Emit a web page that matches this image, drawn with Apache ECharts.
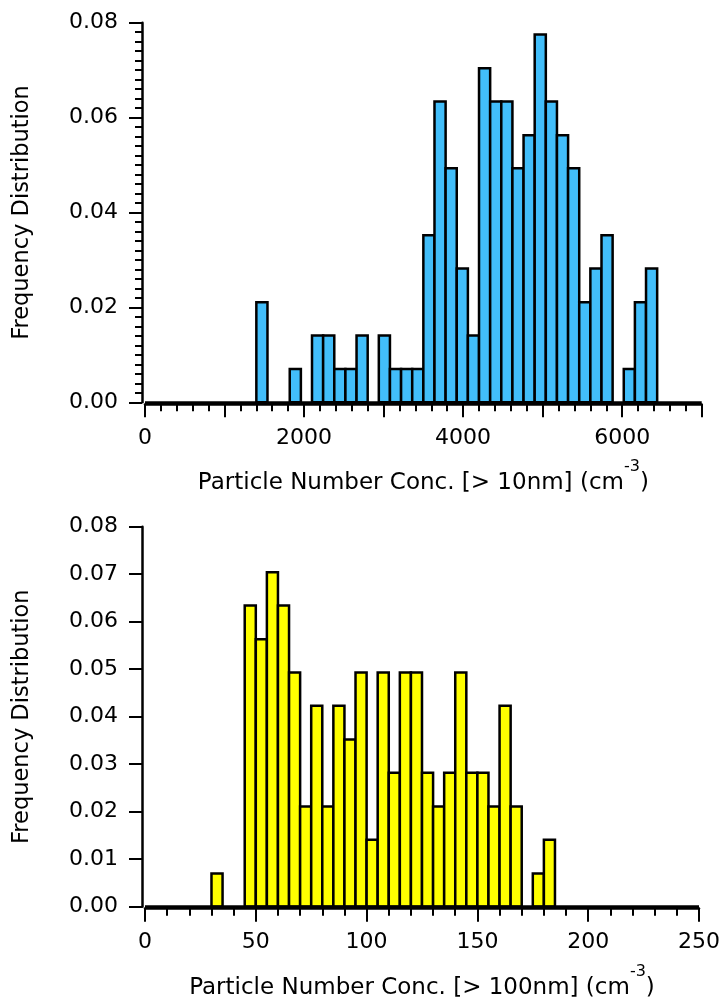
<!DOCTYPE html>
<html>
<head>
<meta charset="utf-8">
<script src="https://cdn.jsdelivr.net/npm/echarts@6/dist/echarts.min.js"></script>
<style>
  html, body { margin: 0; padding: 0; background: #ffffff; }
  #chart { width: 723px; height: 1003px; }
</style>
</head>
<body>
<div id="chart"></div>
<script>
// Particle number concentration > 10 nm: histogram bins (lower edge, cm^-3)
const fineBinWidth = 140;
const fineBinStarts = [
  1400, 1540, 1680, 1820, 1960, 2100, 2240, 2380, 2520, 2660,
  2800, 2940, 3080, 3220, 3360, 3500, 3640, 3780, 3920, 4060,
  4200, 4340, 4480, 4620, 4760, 4900, 5040, 5180, 5320, 5460,
  5600, 5740, 5880, 6020, 6160, 6300
];
const fineFreq = [
  0.0211, 0, 0, 0.0070, 0, 0.0141, 0.0141, 0.0070, 0.0070, 0.0141,
  0, 0.0141, 0.0070, 0.0070, 0.0070, 0.0352, 0.0634, 0.0493, 0.0282, 0.0141,
  0.0704, 0.0634, 0.0634, 0.0493, 0.0563, 0.0775, 0.0634, 0.0563, 0.0493, 0.0211,
  0.0282, 0.0352, 0, 0.0070, 0.0211, 0.0282
];

// Particle number concentration > 100 nm: histogram bins (lower edge, cm^-3)
const coarseBinWidth = 5;
const coarseBinStarts = [
  30, 35, 40, 45, 50, 55, 60, 65, 70, 75,
  80, 85, 90, 95, 100, 105, 110, 115, 120, 125,
  130, 135, 140, 145, 150, 155, 160, 165, 170, 175, 180
];
const coarseFreq = [
  0.0070, 0, 0, 0.0634, 0.0563, 0.0704, 0.0634, 0.0493, 0.0211, 0.0423,
  0.0211, 0.0423, 0.0352, 0.0493, 0.0141, 0.0493, 0.0282, 0.0493, 0.0493, 0.0282,
  0.0211, 0.0282, 0.0493, 0.0282, 0.0282, 0.0211, 0.0423, 0.0211, 0, 0.0070, 0.0141
];

// Axis ranges and tick spacing
const fineXRange = [0, 7000];
const fineXStep = 1000;
const fineXLabelStep = 2000;
const fineYRange = [0, 0.08];
const fineYStep = 0.02;
const coarseXRange = [0, 250];
const coarseXStep = 50;
const coarseYRange = [0, 0.08];
const coarseYStep = 0.01;

const FONT = 'DejaVu Sans';
const INK = '#000000';

function toRows(starts, width, freq) {
  return starts.map((s, i) => [s, s + width, freq[i]]);
}

// One rectangle per bin, from the bin edges down to zero
function histItem(params, api) {
  const x0 = api.value(0), x1 = api.value(1), v = api.value(2);
  if (!(v > 0)) return null;
  const pTop = api.coord([x0, v]);
  const pBot = api.coord([x1, 0]);
  return {
    type: 'rect',
    shape: { x: pTop[0], y: pTop[1], width: pBot[0] - pTop[0], height: pBot[1] - pTop[1] },
    style: { fill: api.visual('color'), stroke: INK, lineWidth: 2.5, lineJoin: 'miter' }
  };
}

const tickStyle = { color: INK, width: 2 };

function xAxisDef(gridIndex, range, step, labelStep, title) {
  return {
    gridIndex, type: 'value', min: range[0], max: range[1], interval: step,
    offset: 2,
    axisLine: { show: true, onZero: false, lineStyle: { color: INK, width: 2.5 } },
    axisTick: { show: true, length: 13, lineStyle: tickStyle },
    minorTick: { show: true, splitNumber: 5, length: 7, lineStyle: tickStyle },
    splitLine: { show: false }, minorSplitLine: { show: false },
    axisLabel: {
      margin: 23, fontSize: 22, fontFamily: FONT, color: INK,
      formatter: v => (Math.round(v) % labelStep === 0 ? String(Math.round(v)) : '')
    },
    name: title, nameLocation: 'middle', nameGap: 55,
    nameTextStyle: {
      rich: {
        t: { fontSize: 23, fontFamily: FONT, color: INK, lineHeight: 48 },
        s: { fontSize: 16, fontFamily: FONT, color: INK, lineHeight: 16, verticalAlign: 'top' }
      }
    }
  };
}

function yAxisDef(gridIndex, range, step, minor) {
  return {
    gridIndex, type: 'value', min: range[0], max: range[1], interval: step,
    offset: 3,
    axisLine: { show: true, onZero: false, lineStyle: { color: INK, width: 2.5 } },
    axisTick: { show: true, length: 13, lineStyle: tickStyle },
    minorTick: { show: minor > 0, splitNumber: minor || 5, length: 7, lineStyle: tickStyle },
    splitLine: { show: false }, minorSplitLine: { show: false },
    axisLabel: {
      margin: 24, fontSize: 22, fontFamily: FONT, color: INK,
      formatter: v => v.toFixed(2)
    },
    name: 'Frequency Distribution', nameLocation: 'middle', nameGap: 108,
    nameTextStyle: { fontSize: 22.5, fontFamily: FONT, color: INK }
  };
}

const baseline = {
  silent: true, symbol: ['none', 'none'], label: { show: false },
  lineStyle: { color: INK, width: 3.5, type: 'solid' },
  emphasis: { disabled: true },
  data: [{ yAxis: 0 }]
};

const chart = echarts.init(document.getElementById('chart'), null, { renderer: 'canvas' });
chart.setOption({
  backgroundColor: '#ffffff',
  animation: false,
  grid: [
    { left: 145, top: 22.7, width: 556.7, height: 379.6 },
    { left: 145, top: 526.7, width: 556, height: 380 }
  ],
  xAxis: [
    xAxisDef(0, fineXRange, fineXStep, fineXLabelStep, '{t|Particle Number Conc. [> 10nm] (cm}{s|-3}{t|)}'),
    xAxisDef(1, coarseXRange, coarseXStep, coarseXStep, '{t|Particle Number Conc. [> 100nm] (cm}{s|-3}{t|)}')
  ],
  yAxis: [
    yAxisDef(0, fineYRange, fineYStep, 10),
    yAxisDef(1, coarseYRange, coarseYStep, 0)
  ],
  series: [
    {
      type: 'custom', xAxisIndex: 0, yAxisIndex: 0,
      renderItem: histItem, encode: { x: [0, 1], y: 2 },
      itemStyle: { color: '#42BEFA' },
      data: toRows(fineBinStarts, fineBinWidth, fineFreq),
      markLine: baseline
    },
    {
      type: 'custom', xAxisIndex: 1, yAxisIndex: 1,
      renderItem: histItem, encode: { x: [0, 1], y: 2 },
      itemStyle: { color: '#FFFF00' },
      data: toRows(coarseBinStarts, coarseBinWidth, coarseFreq),
      markLine: baseline
    }
  ]
});
</script>
</body>
</html>
